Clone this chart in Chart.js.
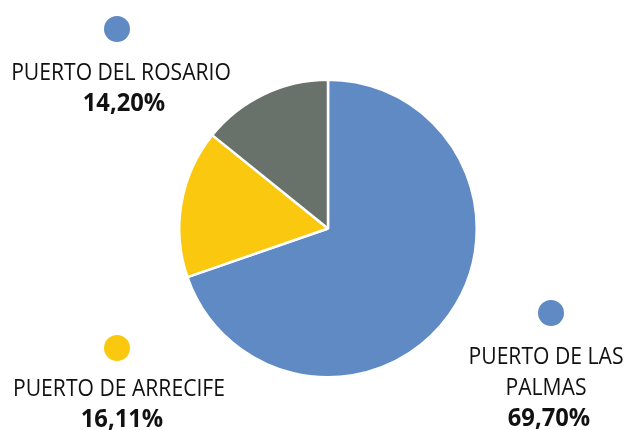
<!DOCTYPE html>
<html>
<head>
<meta charset="utf-8">
<script src="https://cdn.jsdelivr.net/npm/chart.js@4.4.1/dist/chart.umd.min.js"></script>
<style>
  html, body { margin: 0; padding: 0; background: #ffffff; }
  #wrap { width: 626px; height: 430px; position: relative; }
</style>
</head>
<body>
<div id="wrap"><canvas id="portChart" width="626" height="430"></canvas></div>
<script>
  // share of traffic by port (%)
  var ports = ['PUERTO DE LAS PALMAS', 'PUERTO DE ARRECIFE', 'PUERTO DEL ROSARIO'];
  var shares = [69.70, 16.11, 14.20];
  var colors = ['#5f8ac3', '#fac90f', '#68726a'];

  // label lines per port (name may wrap)
  var labelLines = [['PUERTO DE LAS', 'PALMAS'], ['PUERTO DE ARRECIFE'], ['PUERTO DEL ROSARIO']];
  // where each label block sits: dot centre, first text baseline, centre x
  var labelSpots = [
    { dotX: 551, dotY: 313, x: 546, y: 364 },
    { dotX: 117, dotY: 348, x: 119, y: 396 },
    { dotX: 117, dotY: 29,  x: 121, y: 80 }
  ];
  // the top-left label uses the first slice colour for its dot
  var dotColors = ['#5f8ac3', '#fac90f', '#5f8ac3'];

  function fmt(v) {
    return v.toFixed(2).replace('.', ',') + '%';
  }

  // draw text squeezed a little horizontally around its centre
  function narrowText(c, txt, x, y, k) {
    c.save();
    c.translate(x, y);
    c.scale(k, 1);
    c.fillText(txt, 0, 0);
    c.restore();
  }

  var portLabels = {
    id: 'portLabels',
    afterDraw: function (chart) {
      var c = chart.ctx;
      c.save();
      c.textAlign = 'center';
      c.textBaseline = 'alphabetic';
      shares.forEach(function (v, i) {
        var s = labelSpots[i];
        c.beginPath();
        c.arc(s.dotX, s.dotY, 13, 0, Math.PI * 2);
        c.fillStyle = dotColors[i];
        c.fill();
        c.fillStyle = '#111111';
        c.font = '24px "Open Sans", "DejaVu Sans", sans-serif';
        var y = s.y;
        labelLines[i].forEach(function (line) {
          narrowText(c, line, s.x, y, 0.88);
          y += 31;
        });
        c.font = 'bold 25px "Open Sans", "DejaVu Sans", sans-serif';
        narrowText(c, fmt(v), s.x + 3, y, 0.95);
      });
      c.restore();
    }
  };

  var ctx = document.getElementById('portChart').getContext('2d');
  var portChart = new Chart(ctx, {
    type: 'pie',
    data: {
      labels: ports,
      datasets: [{
        data: shares,
        backgroundColor: colors,
        borderColor: '#ffffff',
        borderWidth: 2.5
      }]
    },
    options: {
      responsive: false,
      animation: false,
      layout: { padding: { left: 178, right: 148, top: 78, bottom: 51 } },
      plugins: {
        legend: { display: false },
        tooltip: { enabled: false }
      }
    },
    plugins: [portLabels]
  });
</script>
</body>
</html>
